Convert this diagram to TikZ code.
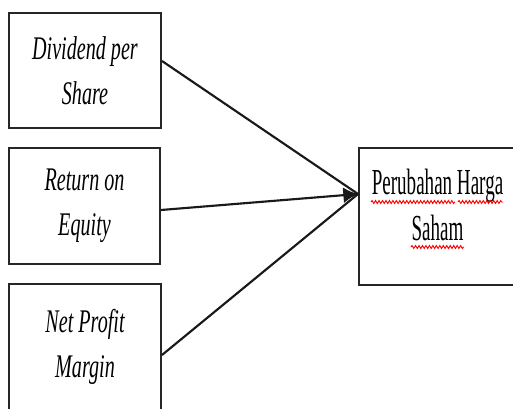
\documentclass[tikz,border=0pt]{standalone}
\usepackage{fontspec}
\setmainfont{Liberation Serif}
\newfontfamily\leftfont[FakeStretch=0.61]{Liberation Serif}
\newfontfamily\rightfont[FakeStretch=0.52]{Liberation Serif}
\usetikzlibrary{arrows.meta,calc,decorations.pathmorphing}
\begin{document}
\begin{tikzpicture}[x=0.75pt,y=-0.75pt,
  box/.style={draw=black!85,line width=1.5pt,inner sep=0pt,fill=white},
  lefttext/.style={align=center,inner sep=0pt,font={\leftfont\itshape\fontsize{24.75}{33.75}\selectfont}},
  righttext/.style={align=center,inner sep=0pt,font={\rightfont\fontsize{27.5}{34.5}\selectfont}},
  conn/.style={draw=black!90,line width=1.6pt},
  squig/.style={draw=red,line width=0.7pt,decorate,decoration={snake,segment length=2.6pt,amplitude=1.1pt}}]
\path[use as bounding box,clip] (0,0) rectangle (513,409);
\fill[white] (0,0) rectangle (513,409);
% boxes
\node[box,lefttext,minimum width=114pt,minimum height=86.25pt] (dps) at (85,70.5) {Dividend per\\Share};
\node[box,lefttext,minimum width=113.25pt,minimum height=87pt] (roe) at (84.5,206) {Return on\\Equity};
\node[box,minimum width=114pt,minimum height=109.5pt] (npm) at (85,357) {};
\node[lefttext] (npmtext) at (85,346.5) {Net Profit\\Margin};
\node[box,minimum width=117.75pt,minimum height=102.75pt] (phs) at (437.5,216.5) {};
\node[righttext] (phstext) at (437.5,204.5) {Perubahan Harga\\Saham};
% spell-check marks
\draw[squig] (371,202) -- (455,202);
\draw[squig] (458,202) -- (503,202);
\draw[squig] (411,247) -- (464,247);
% connectors
\coordinate (tip) at (phs.west |- 0,194);
\draw[conn] ($(dps.east)+(0,-9.5)$) -- (tip);
\draw[conn] ($(npm.east)+(0,-2)$) -- (tip);
\draw[conn,-{Latex[length=11pt,width=12pt]}] ($(roe.east)+(0,4)$) -- (tip);
\end{tikzpicture}
\end{document}
